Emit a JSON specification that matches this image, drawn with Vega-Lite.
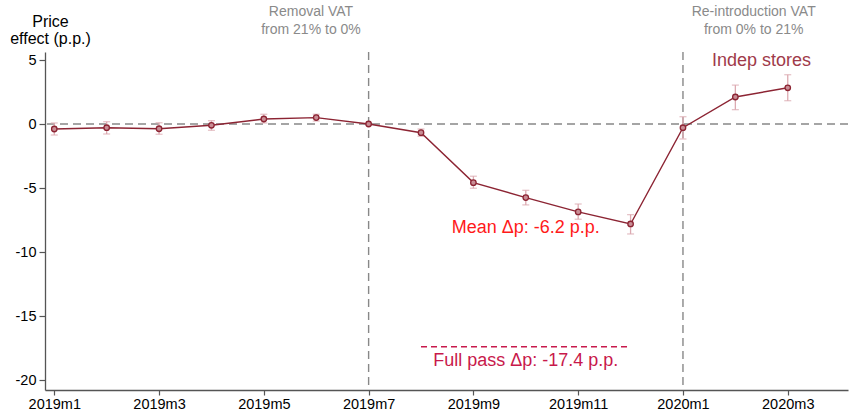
{
  "$schema": "https://vega.github.io/schema/vega-lite/v6.json",
  "width": 803,
  "height": 338,
  "autosize": "none",
  "padding": {"left": 45, "top": 52, "right": 2, "bottom": 24},
  "background": "white",
  "config": {
    "view": {"stroke": null},
    "font": "Liberation Sans",
    "axis": {"grid": false, "domainColor": "#555", "tickColor": "#555", "domainWidth": 1.3, "tickWidth": 1.2, "labelColor": "#000", "labelFont": "Liberation Sans", "titleFont": "Liberation Sans"}
  },
  "datasets": {
    "series": [
      {"m": 0, "est": -0.39, "lo": -0.86, "hi": 0.08},
      {"m": 1, "est": -0.29, "lo": -0.78, "hi": 0.18},
      {"m": 2, "est": -0.37, "lo": -0.8, "hi": 0.1},
      {"m": 3, "est": -0.1, "lo": -0.49, "hi": 0.26},
      {"m": 4, "est": 0.39, "lo": 0.08, "hi": 0.76},
      {"m": 5, "est": 0.5, "lo": 0.23, "hi": 0.76},
      {"m": 6, "est": 0.0},
      {"m": 7, "est": -0.68, "lo": -0.96, "hi": -0.39},
      {"m": 8, "est": -4.58, "lo": -5.02, "hi": -4.08},
      {"m": 9, "est": -5.75, "lo": -6.32, "hi": -5.18},
      {"m": 10, "est": -6.87, "lo": -7.44, "hi": -6.25},
      {"m": 11, "est": -7.81, "lo": -8.59, "hi": -7.08},
      {"m": 12, "est": -0.29, "lo": -1.17, "hi": 0.57},
      {"m": 13, "est": 2.11, "lo": 1.12, "hi": 3.04},
      {"m": 14, "est": 2.83, "lo": 1.82, "hi": 3.85}
    ],
    "events": [{"m": 6}, {"m": 12}],
    "zero": [{"v": 0}],
    "fullpass": [{"x1": 7.0, "x2": 10.95, "v": -17.4}],
    "vatnotes": [
      {"m": 4.9, "v": 8.72, "label": "Removal VAT"},
      {"m": 4.9, "v": 7.35, "label": "from 21% to 0%"},
      {"m": 13.35, "v": 8.72, "label": "Re-introduction VAT"},
      {"m": 13.35, "v": 7.35, "label": "from 0% to 21%"}
    ],
    "series_label": [{"m": 13.5, "v": 4.92, "label": "Indep stores"}],
    "mean_label": [{"m": 9.0, "v": -8.1, "label": "Mean Δp: -6.2 p.p."}],
    "full_label": [{"m": 9.0, "v": -18.49, "label": "Full pass Δp: -17.4 p.p."}]
  },
  "layer": [
    {
      "data": {"name": "zero"},
      "mark": {"type": "rule", "color": "#888", "strokeWidth": 1.4, "strokeDash": [8, 5]},
      "encoding": {
        "y": {"field": "v", "type": "quantitative", "scale": {"domain": [-20.78, 5.625], "nice": false, "zero": false},
          "axis": {"values": [-20, -15, -10, -5, 0, 5], "tickSize": 6, "labelPadding": 3, "labelFontSize": 14.5,
            "labelExpr": "replace(datum.label, '−', '-')",
            "title": ["Price", "effect (p.p.)"], "titleAngle": 0, "titleAlign": "center", "titleBaseline": "top",
            "titleX": 5, "titleY": -39, "titleFontSize": 16, "titleFontWeight": "normal", "titleLineHeight": 17, "titleColor": "#000"}}
      }
    },
    {
      "data": {"name": "events"},
      "mark": {"type": "rule", "color": "#888", "strokeWidth": 1.4, "strokeDash": [8, 5]},
      "encoding": {
        "x": {"field": "m", "type": "quantitative", "scale": {"domain": [-0.177, 15.15], "nice": false, "zero": false},
          "axis": {"values": [0, 2, 4, 6, 8, 10, 12, 14], "tickSize": 5, "labelPadding": 2, "labelFontSize": 14.5, "title": null,
            "labelExpr": "datum.value < 12 ? '2019m' + (datum.value + 1) : '2020m' + (datum.value - 11)"}}
      }
    },
    {
      "data": {"name": "series"},
      "mark": {"type": "rule", "color": "#dcaab1", "strokeWidth": 1.3},
      "encoding": {
        "x": {"field": "m", "type": "quantitative"},
        "y": {"field": "lo", "type": "quantitative"},
        "y2": {"field": "hi"}
      }
    },
    {
      "data": {"name": "series"},
      "mark": {"type": "tick", "color": "#dcaab1", "orient": "horizontal", "size": 7, "thickness": 1.3},
      "encoding": {
        "x": {"field": "m", "type": "quantitative"},
        "y": {"field": "lo", "type": "quantitative"}
      }
    },
    {
      "data": {"name": "series"},
      "mark": {"type": "tick", "color": "#dcaab1", "orient": "horizontal", "size": 7, "thickness": 1.3},
      "encoding": {
        "x": {"field": "m", "type": "quantitative"},
        "y": {"field": "hi", "type": "quantitative"}
      }
    },
    {
      "data": {"name": "series"},
      "mark": {"type": "line", "color": "#8c2433", "strokeWidth": 1.4},
      "encoding": {
        "x": {"field": "m", "type": "quantitative"},
        "y": {"field": "est", "type": "quantitative"}
      }
    },
    {
      "data": {"name": "series"},
      "mark": {"type": "point", "shape": "circle", "filled": true, "fill": "#c98d95", "stroke": "#8c2433", "strokeWidth": 1.3, "size": 30, "opacity": 1},
      "encoding": {
        "x": {"field": "m", "type": "quantitative"},
        "y": {"field": "est", "type": "quantitative"}
      }
    },
    {
      "data": {"name": "fullpass"},
      "mark": {"type": "rule", "color": "#c8194b", "strokeWidth": 1.3, "strokeDash": [6, 4]},
      "encoding": {
        "x": {"field": "x1", "type": "quantitative"},
        "x2": {"field": "x2"},
        "y": {"field": "v", "type": "quantitative"}
      }
    },
    {
      "data": {"name": "vatnotes"},
      "mark": {"type": "text", "color": "#8a8a8a", "fontSize": 14, "align": "center", "baseline": "middle"},
      "encoding": {
        "x": {"field": "m", "type": "quantitative"},
        "y": {"field": "v", "type": "quantitative"},
        "text": {"field": "label"}
      }
    },
    {
      "data": {"name": "series_label"},
      "mark": {"type": "text", "color": "#a03a4a", "fontSize": 18, "align": "center", "baseline": "middle"},
      "encoding": {
        "x": {"field": "m", "type": "quantitative"},
        "y": {"field": "v", "type": "quantitative"},
        "text": {"field": "label"}
      }
    },
    {
      "data": {"name": "mean_label"},
      "mark": {"type": "text", "color": "#ff1a1a", "fontSize": 18, "align": "center", "baseline": "middle"},
      "encoding": {
        "x": {"field": "m", "type": "quantitative"},
        "y": {"field": "v", "type": "quantitative"},
        "text": {"field": "label"}
      }
    },
    {
      "data": {"name": "full_label"},
      "mark": {"type": "text", "color": "#c8194b", "fontSize": 18, "align": "center", "baseline": "middle"},
      "encoding": {
        "x": {"field": "m", "type": "quantitative"},
        "y": {"field": "v", "type": "quantitative"},
        "text": {"field": "label"}
      }
    }
  ]
}
